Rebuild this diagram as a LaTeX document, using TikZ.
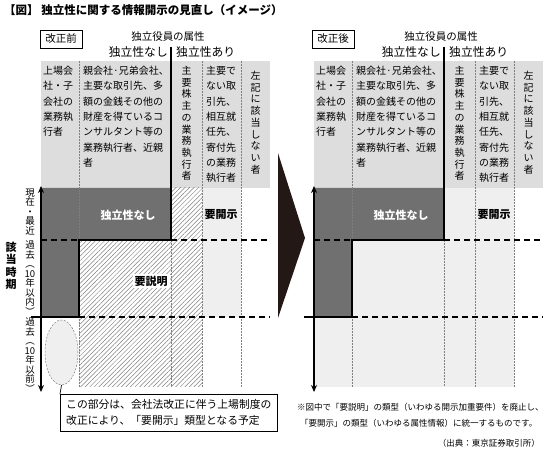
\documentclass[tikz,border=0pt]{standalone}
\usepackage{fontspec}
\setmainfont{Noto Sans CJK JP}
\usetikzlibrary{arrows.meta,patterns.meta,shapes.geometric}

\definecolor{hdgray}{RGB}{221,221,221}
\definecolor{ltgray}{RGB}{239,239,239}
\definecolor{dkgray}{RGB}{112,112,112}
\definecolor{inkblk}{RGB}{35,24,21}

\tikzset{
  sep/.style={densely dotted, gray, line width=0.5pt},
  rowline/.style={line width=1.5pt, dash pattern=on 6pt off 4pt},
  edge/.style={line width=1.6pt},
  timeaxis/.style={line width=1.6pt, {Stealth[length=7pt,width=6pt]}-{Stealth[length=7pt,width=6pt]}},
  hatch/.style={pattern={Lines[angle=45,distance=3.2pt,line width=0.5pt]}, pattern color=gray},
  hdtxt/.style={inner sep=0pt, align=left, font=\fontsize{10}{15.3}\selectfont},
  vtxt/.style={inner sep=0pt, align=center, font=\fontsize{10}{11.7}\selectfont},
  tlabel/.style={inner sep=0pt, align=center, font=\fontsize{9.5}{9.5}\selectfont},
  tag/.style={inner sep=0pt, font=\bfseries\fontsize{11}{11}\selectfont},
  stagebox/.style={draw, line width=0.6pt, inner sep=0pt, minimum width=42pt, minimum height=18pt, font=\fontsize{10.5}{10.5}\selectfont},
  attr/.style={inner sep=0pt, font=\fontsize{10.5}{10.5}\selectfont},
  side/.style={inner sep=0pt, font=\fontsize{11.8}{11.8}\selectfont},
  foot/.style={inner sep=0pt, font=\fontsize{8.5}{8.5}\selectfont},
}

\begin{document}
\begin{tikzpicture}[x=1pt,y=-1pt]
\useasboundingbox (0,0) rectangle (550,454);

\node (title) [anchor=west, inner sep=0pt, font=\bfseries\fontsize{11.5}{11.5}\selectfont] at (4,10) {【図】 独立性に関する情報開示の見直し（イメージ）};

% before the revision
\fill[hdgray] (41,61) rectangle (270,188);
\fill[ltgray] (202,188) rectangle (241,317);
\fill[hatch] (171,188) rectangle (202,387);
\fill[hatch] (79,240) rectangle (171,387);
\fill[dkgray] (41,188) -- (171,188) -- (171,240) -- (79,240) -- (79,317) -- (41,317) -- cycle;
\node (pastL) [ellipse, draw=gray, line width=0.5pt, dash pattern=on 2pt off 1.5pt, fill=ltgray, minimum width=33pt, minimum height=65pt, inner sep=0pt] at (61.5,352.5) {};
\draw[sep] (79,61) -- (79,387);
\draw[sep] (202,61) -- (202,387);
\draw[sep] (241,61) -- (241,387);
\draw[sep] (171,240) -- (171,387);
\draw[rowline] (41,240) -- (270,240);
\draw[rowline] (79,317) -- (270,317);
\draw[edge] (171,47) -- (171,240) -- (79,240) -- (79,317) -- (31,317);

\node (stageL) [stagebox] at (61,39) {改正前};
\node (attrL) [attr] at (168,37) {独立役員の属性};
\node (depL) [side, anchor=east] at (168,52) {独立性なし};
\node (indL) [side, anchor=west] at (176,52) {独立性あり};
\node (c1L) [hdtxt, anchor=north west] at (43,66) {上場会\\社・子\\会社の\\業務執\\行者};
\node (c2L) [hdtxt, anchor=north west] at (83,66) {親会社·兄弟会社、\\主要な取引先、多\\額の金銭その他の\\財産を得ているコ\\ンサルタント等の\\業務執行者、近親\\者};
\node (c3L) [vtxt, anchor=north] at (186.5,66) {主\\要\\株\\主\\の\\業\\務\\執\\行\\者};
\node (c4L) [hdtxt, anchor=north west] at (206,66) {主要で\\ない取\\引先、\\相互就\\任先、\\寄付先\\の業務\\執行者};
\node (c5L) [vtxt, anchor=north] at (255.5,71) {左\\記\\に\\該\\当\\し\\な\\い\\者};

\node (noindL) [tag, text=white] at (128,215) {独立性なし};
\node (discL) [tag] at (221,215) {要開示};
\node (explL) [tag, fill=white, inner sep=2pt] at (151,281) {要説明};

\node (period) [inner sep=0pt, align=center, font=\bfseries\fontsize{11}{12.5}\selectfont] at (11,266) {該\\当\\時\\期};
\node (nowT) [tlabel] at (30,212) {現\\在\\・\\最\\近};
\node (tenT) [tlabel] at (30,278) {過\\去\\︵\\10\\年\\以\\内\\︶};
\node (oldT) [tlabel] at (30,355) {過\\去\\︵\\10\\年\\以\\前\\︶};

\coordinate (topL) at (41,186);
\coordinate (botL) at (41,392);
\draw[timeaxis] (topL) -- (botL);

\node (note) [draw, line width=0.7pt, anchor=north west, minimum width=217pt, minimum height=37pt, align=left, inner sep=0pt, font=\fontsize{10.8}{16}\selectfont] at (60,394) {この部分は、会社法改正に伴う上場制度の\\改正により、「要開示」類型となる予定};
\draw[line width=0.7pt] (pastL.south) -- (note.north west);

% arrow between the panels
\fill[inkblk] (278,153) -- (305,238) -- (278,318) -- cycle;

% after the revision
\fill[hdgray] (314,61) rectangle (543,188);
\fill[ltgray] (314,188) rectangle (514,387);
\fill[dkgray] (314,188) -- (444,188) -- (444,240) -- (352,240) -- (352,317) -- (314,317) -- cycle;
\draw[sep] (352,61) -- (352,387);
\draw[sep] (475,61) -- (475,387);
\draw[sep] (514,61) -- (514,387);
\draw[sep] (444,240) -- (444,387);
\draw[rowline] (314,240) -- (543,240);
\draw[rowline] (352,317) -- (543,317);
\draw[edge] (444,47) -- (444,240) -- (352,240) -- (352,317) -- (304,317);

\node (stageR) [stagebox] at (333,39) {改正後};
\node (attrR) [attr] at (441,37) {独立役員の属性};
\node (depR) [side, anchor=east] at (441,52) {独立性なし};
\node (indR) [side, anchor=west] at (449,52) {独立性あり};
\node (c1R) [hdtxt, anchor=north west] at (316,66) {上場会\\社・子\\会社の\\業務執\\行者};
\node (c2R) [hdtxt, anchor=north west] at (356,66) {親会社·兄弟会社、\\主要な取引先、多\\額の金銭その他の\\財産を得ているコ\\ンサルタント等の\\業務執行者、近親\\者};
\node (c3R) [vtxt, anchor=north] at (459.5,66) {主\\要\\株\\主\\の\\業\\務\\執\\行\\者};
\node (c4R) [hdtxt, anchor=north west] at (479,66) {主要で\\ない取\\引先、\\相互就\\任先、\\寄付先\\の業務\\執行者};
\node (c5R) [vtxt, anchor=north] at (528.5,71) {左\\記\\に\\該\\当\\し\\な\\い\\者};

\node (noindR) [tag, text=white] at (401,215) {独立性なし};
\node (discR) [tag] at (494,215) {要開示};

\coordinate (topR) at (314,186);
\coordinate (botR) at (314,392);
\draw[timeaxis] (topR) -- (botR);

\node (fn1) [foot, anchor=west] at (297,407) {※図中で「要説明」の類型（いわゆる開示加重要件）を廃止し、};
\node (fn2) [foot, anchor=west] at (300,423) {「要開示」の類型（いわゆる属性情報）に統一するものです。};
\node (src) [foot, anchor=east] at (540,443) {（出典：東京証券取引所）};
\end{tikzpicture}
\end{document}
